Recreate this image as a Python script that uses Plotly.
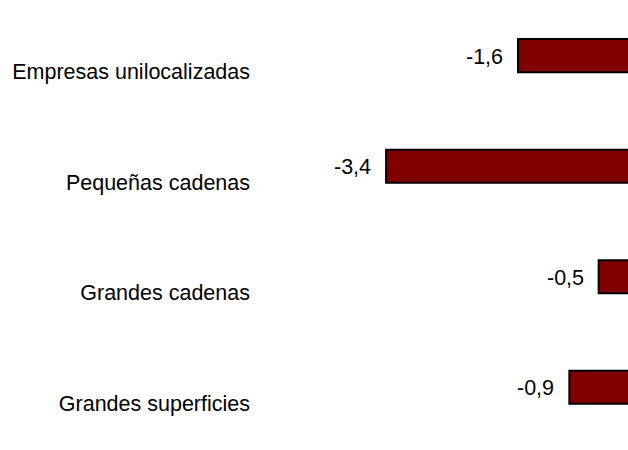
import plotly.graph_objects as go

categories = ["Empresas unilocalizadas", "Pequeñas cadenas", "Grandes cadenas", "Grandes superficies"]
values = [-1.6, -3.4, -0.5, -0.9]
value_labels = ["-1,6", "-3,4", "-0,5", "-0,9"]

positions = list(range(len(categories)))
FONT = "Arial, Liberation Sans, sans-serif"

fig = go.Figure()
fig.add_trace(go.Bar(
    x=values,
    y=positions,
    orientation="h",
    width=0.3,
    offset=-0.295,
    marker=dict(color="#800000", line=dict(color="#000000", width=2)),
    hoverinfo="skip",
))

for v, p, t in zip(values, positions, value_labels):
    fig.add_annotation(
        x=v, y=p, text=t, showarrow=False,
        xanchor="right", yanchor="middle",
        xshift=-13, yshift=15,
        font=dict(family=FONT, size=21.5, color="#000000"),
    )

fig.update_layout(
    width=628, height=450, autosize=False,
    margin=dict(l=253, r=0, t=0, b=0),
    paper_bgcolor="white", plot_bgcolor="white",
    showlegend=False,
    font=dict(family=FONT, size=21.5, color="#000000"),
)
fig.update_xaxes(range=[-5.216, -0.0996], showgrid=False, zeroline=False,
                 showline=False, showticklabels=False, ticks="")
fig.update_yaxes(range=[3.423, -0.649], tickmode="array", tickvals=positions,
                 ticktext=categories, showgrid=False, zeroline=False,
                 showline=False, ticks="", ticklabelstandoff=2)

fig.write_html(
    "out.html",
    config={"displayModeBar": False},
    post_script="document.body.style.margin='0';document.documentElement.style.overflow='hidden';document.body.style.overflow='hidden';",
)
